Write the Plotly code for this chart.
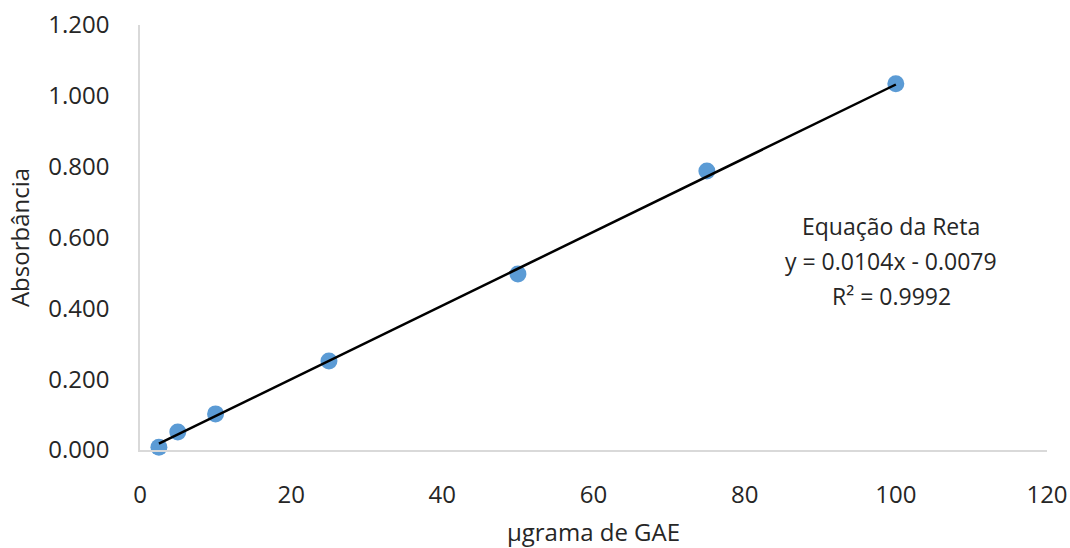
import plotly.graph_objects as go

conc = [2.5, 5, 10, 25, 50, 75, 100]
absorb = [0.008, 0.051, 0.102, 0.251, 0.497, 0.788, 1.034]
trend_x = [2.5, 100]
trend_y = [0.018, 1.032]
eq_lines = ["Equação da Reta", "y = 0.0104x - 0.0079", "R² = 0.9992"]
x_ticks = [0, 20, 40, 60, 80, 100, 120]
y_ticks = [0, 0.2, 0.4, 0.6, 0.8, 1.0, 1.2]

FONT = "Open Sans"
fig = go.Figure()
fig.add_trace(go.Scatter(x=conc, y=absorb, mode="markers",
                         marker=dict(color="#5B9BD5", size=17, line=dict(width=0)),
                         showlegend=False, cliponaxis=False))
fig.add_trace(go.Scatter(x=trend_x, y=trend_y, mode="lines",
                         line=dict(color="black", width=2.5), showlegend=False))

for i, t in enumerate(eq_lines):
    fig.add_annotation(x=99.4, y=0.633 - i * 0.099, xref="x", yref="y", text=t,
                       showarrow=False, font=dict(family=FONT, size=23, color="#262626"),
                       xanchor="center", yanchor="middle")

fig.update_layout(
    width=1070, height=548,
    margin=dict(l=140, r=23, t=25, b=98),
    plot_bgcolor="white", paper_bgcolor="white",
    font=dict(family=FONT, size=24, color="#262626"),
    xaxis=dict(range=[0, 120], tickvals=x_ticks, showgrid=False, zeroline=False,
               showline=True, linecolor="#D9D9D9", linewidth=1.5, automargin=False,
               ticklabelstandoff=22,
               title=dict(text="µgrama de GAE", font=dict(size=24), standoff=22)),
    yaxis=dict(range=[0, 1.2], tickvals=y_ticks, tickformat=".3f", showgrid=False,
               zeroline=False, showline=True, linecolor="#D9D9D9", linewidth=1.5,
               automargin=False, ticklabelstandoff=24,
               title=dict(text="Absorbância", font=dict(size=24), standoff=12)),
)
fig.write_html("out.html", config={"displayModeBar": False},
               post_script="document.body.style.margin='0';document.body.style.overflow='hidden';")
